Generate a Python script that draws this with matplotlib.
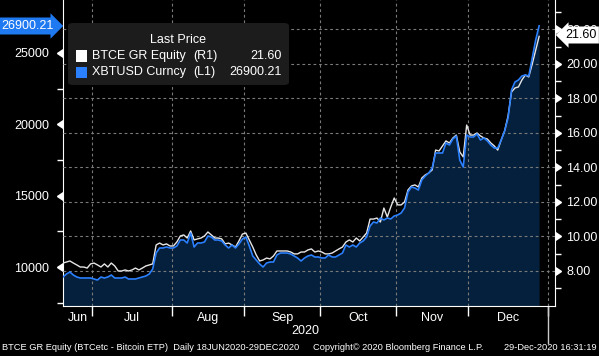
#!/usr/bin/env python3

import numpy as np
import pandas as pd
import matplotlib
matplotlib.use("Agg")
import matplotlib.pyplot as plt
from matplotlib import transforms
from matplotlib.patches import FancyBboxPatch, Rectangle

W, H = 599, 356
FONT = ['Liberation Sans', 'DejaVu Sans']

# trading days shown on the chart
dates = pd.bdate_range('2020-06-18', '2020-12-29')

# BTCE GR Equity (right axis, EUR)
btce = [8.46, 8.52, 8.58, 8.46, 8.35, 8.23, 8.23, 8.17, 8.41, 8.46,
        8.35, 8.23, 8.41, 8.23, 8.46, 8.29, 8.00, 8.00, 8.06, 8.00,
        8.06, 8.17, 8.06, 8.17, 8.29, 8.35, 8.41, 9.51, 9.62, 9.51,
        9.57, 9.45, 9.45, 9.68, 10.03, 10.09, 9.91, 10.32, 9.80, 9.86,
        9.91, 10.03, 10.26, 10.09, 9.91, 9.91, 9.86, 9.57, 9.62, 9.51,
        9.39, 9.74, 10.14, 10.20, 9.80, 9.39, 8.93, 8.58, 8.64, 8.75,
        8.70, 8.87, 9.16, 9.16, 9.16, 9.16, 9.10, 8.99, 8.99, 9.10,
        9.10, 9.22, 9.28, 9.10, 9.16, 9.10, 8.99, 8.99, 9.04, 9.16,
        9.28, 9.39, 9.68, 9.80, 9.68, 9.91, 9.74, 9.97, 10.20, 11.01,
        11.01, 11.07, 10.84, 11.65, 11.13, 11.71, 12.23, 11.83, 11.83, 12.00,
        12.70, 12.93, 12.99, 12.87, 13.39, 13.57, 13.68, 13.86, 15.01, 14.96,
        15.25, 15.54, 15.42, 15.71, 15.88, 14.90, 14.61, 16.46, 15.88, 15.88,
        16.00, 15.83, 15.71, 15.65, 15.42, 15.25, 15.01, 15.59, 16.12, 16.99,
        18.38, 18.61, 18.67, 19.07, 19.36, 19.25, 20.00, 20.81, 21.60]

# XBTUSD Curncy (left axis, USD)
xbt = [9299, 9509, 9650, 9439, 9299, 9229, 9229, 9229, 9229, 9159,
       9089, 9299, 9229, 9299, 9439, 9229, 9229, 9229, 9299, 9159,
       9159, 9159, 9229, 9299, 9369, 9509, 9860, 10981, 11332, 11332,
       11402, 11332, 11332, 11472, 11892, 11892, 11682, 12383, 11402, 11682,
       11682, 11752, 12172, 12102, 11892, 11892, 11822, 11542, 11332, 11542,
       11332, 11612, 11962, 12102, 11472, 10771, 10491, 10210, 10000, 10280,
       10350, 10350, 10841, 10981, 10981, 10981, 10911, 10771, 10631, 10420,
       10631, 10771, 10841, 10701, 10701, 10631, 10631, 10841, 10701, 10701,
       10841, 10981, 11542, 11402, 11542, 11402, 11682, 11822, 12102, 12873,
       13154, 13084, 13434, 13294, 13434, 13364, 13574, 13644, 13784, 14135,
       15256, 15606, 15536, 15396, 16097, 16377, 16588, 16938, 17989, 17989,
       17989, 18690, 18550, 18970, 19180, 17499, 17008, 19250, 19110, 19110,
       19321, 18900, 19040, 18830, 18550, 18340, 18340, 18900, 19531, 20442,
       22404, 22965, 23105, 23385, 23455, 23385, 24647, 25908, 26900.21]

left_ticks = [10000, 15000, 20000, 25000]
left_minor = [7500, 12500, 17500, 22500]
right_ticks = [8, 10, 12, 14, 16, 18, 20, 22]
right_minor = [7, 9, 11, 13, 15, 17, 19, 21, 23]
month_names = ['Jun', 'Jul', 'Aug', 'Sep', 'Oct', 'Nov', 'Dec']
month_starts = ['2020-07-01', '2020-08-01', '2020-09-01', '2020-10-01',
                '2020-11-01', '2020-12-01', '2021-01-01']

BLUE = '#2a80ff'
LINE_W = '#e6e6e6'
FILL = '#05203c'
GRID = '#7a7a7a'


def fx(x):
    return x / W


def fy(y):
    return 1 - y / H


def main():
    plt.rcParams['font.family'] = FONT
    fig = plt.figure(figsize=(W / 100, H / 100), dpi=100, facecolor='black')
    rect = [fx(63), fy(306), fx(555) - fx(63), fy(0) - fy(306)]

    x = np.arange(len(dates))
    start = np.datetime64('2020-06-18')
    bounds = [np.busday_count(start, np.datetime64(d)) - 0.5 for d in month_starts]
    centers = [(0 + bounds[0]) / 2] + [(a + b) / 2 for a, b in zip(bounds[:-1], bounds[1:])]

    ax = fig.add_axes(rect)
    ax.set_facecolor('black')
    ax2 = ax.twinx()
    ax2.patch.set_visible(False)
    ax3 = fig.add_axes(rect, sharex=ax, sharey=ax)
    ax3.patch.set_visible(False)
    ax3.axis('off')

    ax.set_xlim(0, 142.6)
    ax.set_ylim(7267, 28711)
    ax2.set_ylim(5.97, 23.71)

    ax.fill_between(x, xbt, 7267, color=FILL, lw=0, zorder=1)
    ax2.plot(x, btce, color=LINE_W, lw=1.0, zorder=3)
    ax3.plot(x, xbt, color=BLUE, lw=1.2, zorder=3)

    # grid
    for yv in right_ticks:
        ax2.axhline(yv, color=GRID, lw=0.8, ls=(0, (2.5, 2.5)), zorder=2)
    for b in bounds:
        ax2.axvline(b, color=GRID, lw=0.8, ls=(0, (2.5, 2.5)), zorder=2)

    # spines
    for a in (ax, ax2):
        for s in a.spines.values():
            s.set_visible(False)
    ax.spines['left'].set_visible(True)
    ax.spines['left'].set_color('white')
    ax2.spines['right'].set_visible(True)
    ax2.spines['right'].set_color('white')
    ax.spines['bottom'].set_visible(True)
    ax.spines['bottom'].set_color('white')

    # left axis
    ax.set_yticks(left_ticks)
    ax.set_yticklabels([str(v) for v in left_ticks])
    ax.set_yticks(left_minor, minor=True)
    ax.tick_params(axis='y', which='major', length=0, pad=10, colors='white', labelsize=9)
    ax.tick_params(axis='y', which='minor', length=4, width=1, color='white')
    tl = transforms.blended_transform_factory(ax.transAxes, ax.transData)
    ax.plot([0] * len(left_ticks), left_ticks, ls='none', marker=8, ms=6,
            color='white', transform=tl, clip_on=False, zorder=6)

    # right axis
    ax2.set_yticks(right_ticks)
    ax2.set_yticklabels(['%.2f' % v for v in right_ticks])
    ax2.set_yticks(right_minor, minor=True)
    ax2.tick_params(axis='y', which='major', length=0, pad=8, colors='white', labelsize=9)
    ax2.tick_params(axis='y', which='minor', length=4, width=1, color='white')
    tr = transforms.blended_transform_factory(ax2.transAxes, ax2.transData)
    ax2.plot([1] * len(right_ticks), right_ticks, ls='none', marker=9, ms=6,
             color='white', transform=tr, clip_on=False, zorder=6)

    # x axis
    ax.set_xticks(bounds)
    ax.set_xticklabels([])
    ax.tick_params(axis='x', length=7, width=1, color='white', direction='out')
    ax2.tick_params(axis='x', length=0)
    tx = transforms.blended_transform_factory(ax.transData, ax.transAxes)
    for c, name in zip(centers, month_names):
        ax.text(c, -12 / 306, name, transform=tx, ha='center', va='center',
                color='white', fontsize=9)
    ax.plot([bounds[-1], bounds[-1]], [0, -0.12], color='#cccccc', lw=1,
            transform=tx, clip_on=False)
    fig.text(fx(305), fy(331), '2020', ha='center', va='center', color='white', fontsize=9)

    # last value tags
    fig.text(fx(54), fy(26), '26900.21', ha='right', va='center', color='white',
             fontsize=9, bbox=dict(boxstyle='rarrow,pad=0.2', fc='#1f7af2', ec='none'),
             zorder=8)
    fig.text(fx(565), fy(35), '21.60', ha='left', va='center', color='black',
             fontsize=9, bbox=dict(boxstyle='larrow,pad=0.2', fc='white', ec='none'),
             zorder=8)

    # legend
    box = FancyBboxPatch((fx(68), fy(85)), fx(289) - fx(68), fy(23) - fy(85),
                         boxstyle='round,pad=0,rounding_size=0.008',
                         transform=fig.transFigure, fc='#1c1c1c', ec='none', zorder=7)
    fig.add_artist(box)
    fig.text(fx(178), fy(40), 'Last Price', ha='center', va='center',
             color='white', fontsize=9, zorder=8)
    rows = [('BTCE GR Equity', '(R1)', '21.60', 'white', 56),
            ('XBTUSD Curncy', '(L1)', '26900.21', BLUE, 72)]
    for name, side, val, col, yy in rows:
        fig.add_artist(Rectangle((fx(76), fy(yy + 5.5)), fx(11), fy(0) - fy(11),
                                 transform=fig.transFigure, fc=col, ec='none', zorder=8))
        fig.text(fx(92), fy(yy), name, ha='left', va='center', color='white',
                 fontsize=9, zorder=8)
        fig.text(fx(193), fy(yy), side, ha='left', va='center', color='white',
                 fontsize=9, zorder=8)
        fig.text(fx(282), fy(yy), val, ha='right', va='center', color='white',
                 fontsize=9, zorder=8)

    # footer
    fig.text(fx(2), fy(348), 'BTCE GR Equity (BTCetc - Bitcoin ETP)  Daily 18JUN2020-29DEC2020',
             ha='left', va='center', color='white', fontsize=6.7)
    fig.text(fx(313), fy(348), 'Copyright\u00a9 2020 Bloomberg Finance L.P.',
             ha='left', va='center', color='white', fontsize=6.7)
    fig.text(fx(597), fy(348), '29-Dec-2020 16:31:19',
             ha='right', va='center', color='white', fontsize=6.7)

    fig.savefig('out.png', dpi=100, facecolor='black')


if __name__ == "__main__":
    main()
